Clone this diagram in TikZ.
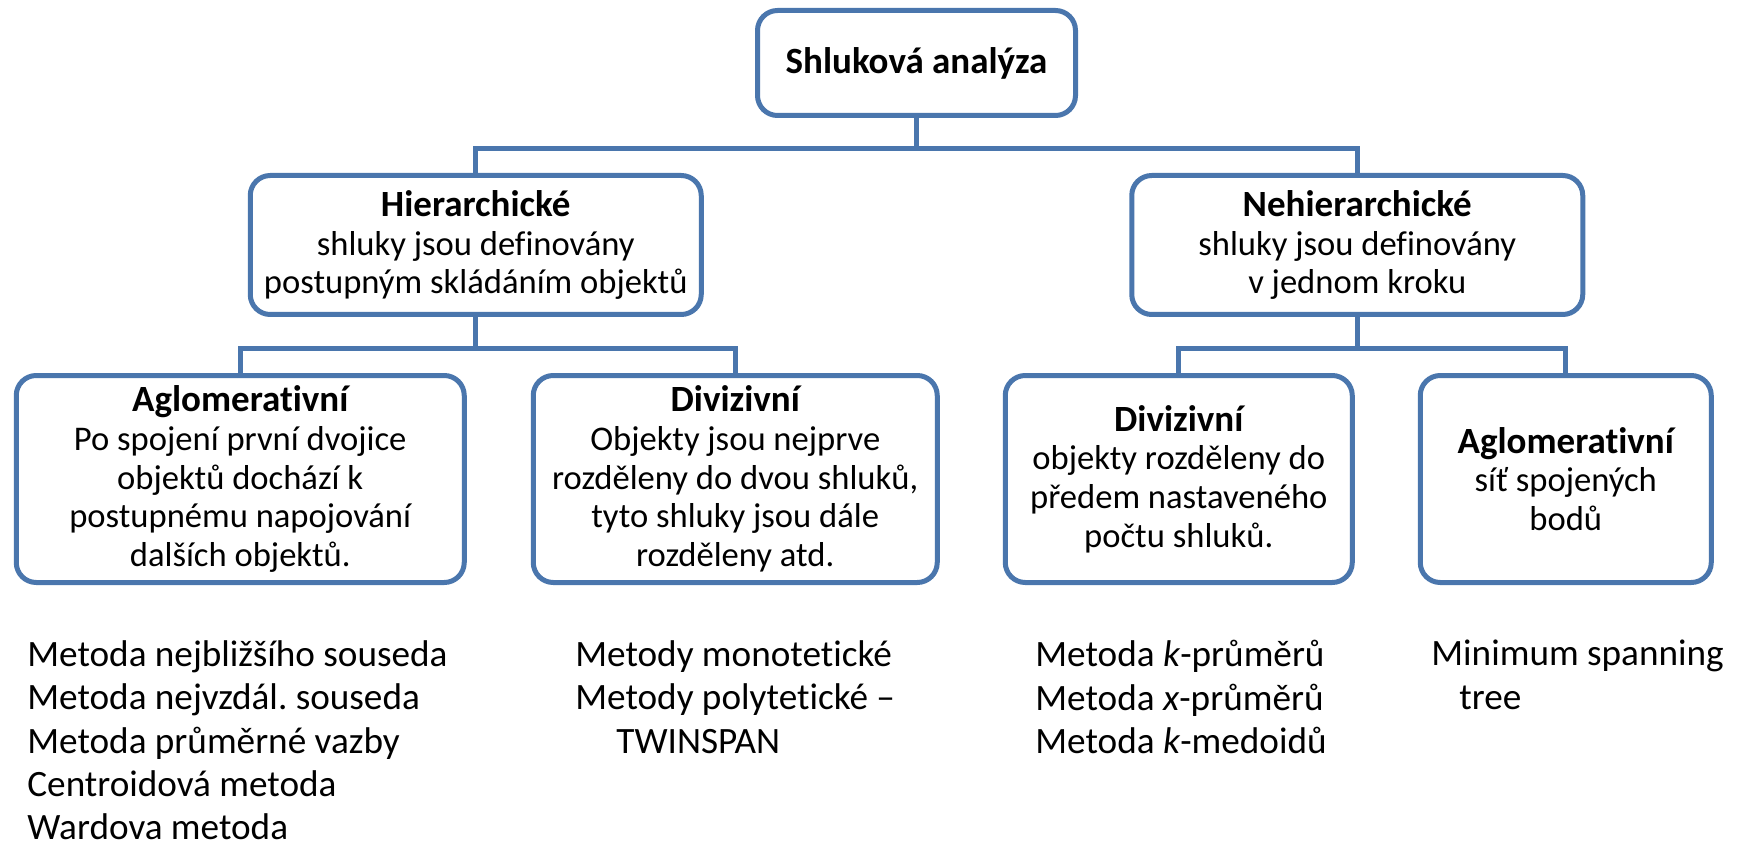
\documentclass[tikz,border=0pt]{standalone}
\usepackage{fontspec}
\setmainfont{Carlito}[Ligatures=CommonOff]
\usepackage{tikz}
\frenchspacing

\definecolor{boxblue}{HTML}{4A76AD}
\newcommand{\boxhead}[1]{{\fontsize{18.5}{20}\selectfont\bfseries #1}}

\begin{document}
\begin{tikzpicture}[level 1/.style={level distance=91pt, sibling distance=440.75pt},
  level 2/.style={level distance=117pt, sibling distance=247.5pt},
  edge from parent/.style={draw=boxblue, line width=2.5pt},
  edge from parent path={(\tikzparentnode.south) -- ++(0,-15.5pt) -| (\tikzchildnode.north)},
  box/.style={draw=boxblue, line width=2.5pt, rounded corners=10pt, fill=white,
    align=center, inner sep=2pt, font=\fontsize{17.3}{19.3}\selectfont},
  midbox/.style={box, minimum width=225.5pt, minimum height=69.5pt},
  leafbox/.style={box, minimum height=103.5pt},
  methods/.style={align=left, anchor=north west, inner sep=0pt,
    font=\fontsize{18.6}{21.7}\selectfont}]
  \useasboundingbox (0,0) rectangle (870pt,-425pt);
  \node[box, minimum width=159pt, minimum height=52.5pt,
    font=\fontsize{18.5}{21}\selectfont\bfseries] (root) at (458.25pt,-31.5pt) {Shluková analýza}
    child { node[midbox] (hier) {\boxhead{Hierarchické}\\shluky jsou definovány\\postupným skládáním objektů}
      child { node[leafbox, minimum width=224pt, xshift=6pt] (aglo)
        {\boxhead{Aglomerativní}\\Po spojení první dvojice\\objektů dochází k\\postupnému napojování\\dalších objektů.}}
      child { node[leafbox, minimum width=202pt, xshift=6pt] (divi)
        {\boxhead{Divizivní}\\Objekty jsou nejprve\\rozděleny do dvou shluků,\\tyto shluky jsou dále\\rozděleny atd.}}}
    child { node[midbox] (nehier) {\boxhead{Nehierarchické}\\shluky jsou definovány\\v jednom kroku}
      child[sibling distance=193.5pt] { node[leafbox, minimum width=173.5pt, xshift=7.5pt] (nhdivi)
        {\boxhead{Divizivní}\\objekty rozděleny do\\předem nastaveného\\počtu shluků.}}
      child[sibling distance=193.5pt] { node[leafbox, minimum width=145.5pt, xshift=7.5pt] (nhaglo)
        {\boxhead{Aglomerativní}\\síť spojených\\bodů}}};

  % method lists under the boxes
  \node[methods] (aglolist) at (13.5pt,-320pt) {Metoda nejbližšího souseda\\Metoda nejvzdál. souseda\\Metoda průměrné vazby\\Centroidová metoda\\Wardova metoda};
  \node[methods] (divilist) at (287.5pt,-320pt) {Metody monotetické\\Metody polytetické –\\\hspace*{20.5pt}TWINSPAN};
  \node[methods] (nhdivilist) at (517.5pt,-320pt) {Metoda \textit{k}-průměrů\\Metoda \textit{x}-průměrů\\Metoda \textit{k}-medoidů};
  \node[methods] (nhaglolist) at (715.5pt,-320pt) {Minimum spanning\\\hspace*{14pt}tree};
\end{tikzpicture}
\end{document}
